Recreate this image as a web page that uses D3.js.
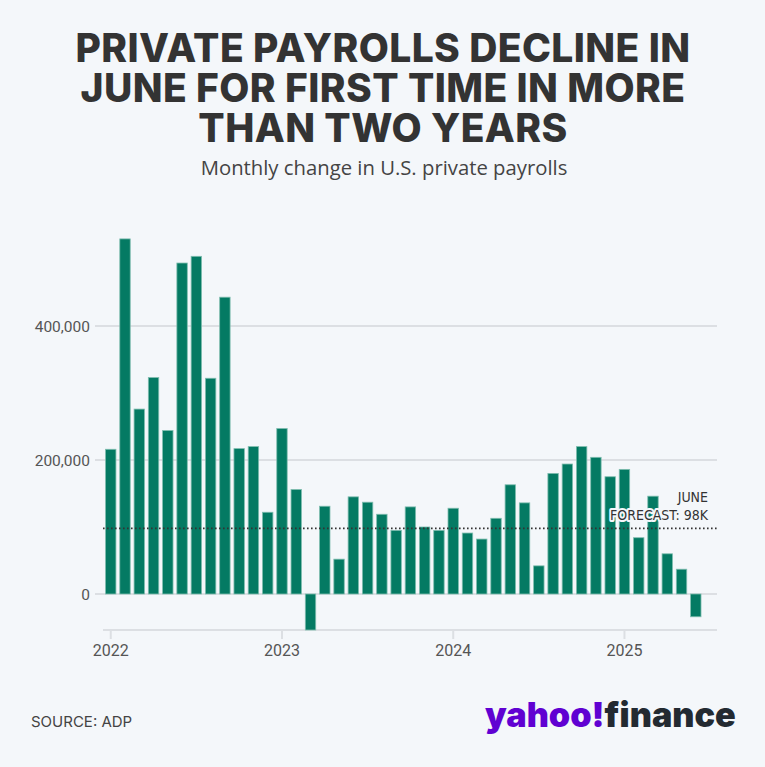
<!DOCTYPE html>
<html>
<head>
<meta charset="utf-8">
<script src="https://cdn.jsdelivr.net/npm/d3@7/dist/d3.min.js"></script>
<style>
  html, body { margin: 0; padding: 0; background: #f4f7fa; }
  svg { display: block; }
</style>
</head>
<body>
<svg id="chart" width="765" height="767"></svg>
<script>
// monthly change in private payrolls, thousands (Jan 2022 .. Jun 2025)
const values2022 = [216, 530, 276, 323, 244, 494, 504, 322, 443, 217, 220, 122];
const values2023 = [247, 156, -54, 131, 52, 145, 137, 119, 95, 130, 100, 95];
const values2024 = [128, 91, 82, 113, 163, 136, 42, 180, 194, 220, 204, 175];
const values2025 = [186, 84, 146, 60, 37, -34];
const values = [...values2022, ...values2023, ...values2024, ...values2025].map(v => v * 1000);

const months = d3.timeMonth.range(new Date(2022, 0, 1), new Date(2025, 6, 1));
const yTicks = [0, 200000, 400000];
const yearTicks = [2022, 2023, 2024, 2025];
const forecast = 98000;

const titleLines = ["PRIVATE PAYROLLS DECLINE IN", "JUNE FOR FIRST TIME IN MORE", "THAN TWO YEARS"];
const subtitle = "Monthly change in U.S. private payrolls";

const data = months.map((m, i) => ({ date: m, value: values[i] }));

const W = 765, H = 767;
const plotLeft = 103, plotRight = 717, plotBottom = 630;
const step = 14.27;

const svg = d3.select("#chart");
svg.append("rect").attr("width", W).attr("height", H).attr("fill", "#f4f7fa");

const x = d3.scaleBand()
  .domain(months.map(d => +d))
  .range([plotLeft + 0.6, plotLeft + 0.6 + step * months.length])
  .paddingInner(0.27)
  .paddingOuter(0.135);

const y = d3.scaleLinear().domain([0, 400000]).range([594, 326]);

// title: one text block, one tspan per line
svg.append("text")
  .attr("y", 62)
  .attr("text-anchor", "middle")
  .attr("font-family", "Inter, sans-serif")
  .attr("font-weight", 800)
  .attr("font-size", 39)
  .attr("letter-spacing", 0.4)
  .attr("fill", "#333")
  .selectAll("tspan")
  .data(titleLines)
  .join("tspan")
  .attr("x", 383)
  .attr("dy", (d, i) => i ? 40 : 0)
  .text(d => d);

svg.append("text")
  .attr("x", 384).attr("y", 175)
  .attr("text-anchor", "middle")
  .attr("font-family", "'Open Sans', sans-serif")
  .attr("font-size", 20.3)
  .attr("fill", "#444")
  .text(subtitle);

// gridlines + y labels
const grid = svg.append("g");
grid.selectAll("line")
  .data(yTicks)
  .join("line")
  .attr("x1", 95).attr("x2", plotRight)
  .attr("y1", d => y(d)).attr("y2", d => y(d))
  .attr("stroke", "#dcdfe3").attr("stroke-width", 2);

grid.selectAll("text")
  .data(yTicks)
  .join("text")
  .attr("x", 90)
  .attr("y", d => y(d))
  .attr("dy", "0.36em")
  .attr("text-anchor", "end")
  .attr("font-family", "Roboto, sans-serif")
  .attr("font-size", 15.5)
  .attr("fill", "#555")
  .text(d => d3.format(",")(d));

// x axis
const xa = svg.append("g");
xa.append("line")
  .attr("x1", plotLeft).attr("x2", plotRight)
  .attr("y1", plotBottom).attr("y2", plotBottom)
  .attr("stroke", "#dcdfe3").attr("stroke-width", 2);

const yearPos = yr => x(+new Date(yr, 0, 1)) + x.bandwidth() / 2;

xa.selectAll(".tick")
  .data(yearTicks)
  .join("line")
  .attr("class", "tick")
  .attr("x1", yearPos).attr("x2", yearPos)
  .attr("y1", plotBottom).attr("y2", plotBottom + 9)
  .attr("stroke", "#dcdfe3").attr("stroke-width", 2);

xa.selectAll("text")
  .data(yearTicks)
  .join("text")
  .attr("x", yearPos)
  .attr("y", 656)
  .attr("text-anchor", "middle")
  .attr("font-family", "Roboto, sans-serif")
  .attr("font-size", 16)
  .attr("fill", "#555")
  .text(d => d);

// bars
svg.append("g").selectAll("rect")
  .data(data)
  .join("rect")
  .attr("x", d => x(+d.date))
  .attr("width", x.bandwidth())
  .attr("y", d => Math.min(y(d.value), y(0)))
  .attr("height", d => Math.abs(Math.min(y(d.value), plotBottom) - y(0)))
  .attr("fill", "#047a63")
  .attr("stroke", "#7fbdaf")
  .attr("stroke-width", 0.8);

// forecast reference line
svg.append("line")
  .attr("x1", plotLeft).attr("x2", plotRight)
  .attr("y1", y(forecast)).attr("y2", y(forecast))
  .attr("stroke", "#333")
  .attr("stroke-width", 1.6)
  .attr("stroke-dasharray", "1.6 2.4");

svg.append("g").selectAll("text")
  .data(["JUNE", "FORECAST: 98K"])
  .join("text")
  .attr("x", 708)
  .attr("y", (d, i) => 502 + i * 18)
  .attr("text-anchor", "end")
  .attr("font-family", "'DejaVu Sans Condensed', 'Roboto', sans-serif")
  .attr("font-stretch", "condensed")
  .attr("font-size", 14)
  .attr("fill", "#333")
  .attr("stroke", "#f4f7fa")
  .attr("stroke-width", 4)
  .attr("stroke-linejoin", "round")
  .attr("paint-order", "stroke")
  .text(d => d);

// footer
svg.append("text")
  .attr("x", 31).attr("y", 727)
  .attr("font-family", "Inter, sans-serif")
  .attr("font-size", 15)
  .attr("fill", "#444")
  .text("SOURCE: ADP");

const logo = svg.append("text")
  .attr("x", 485).attr("y", 727)
  .attr("font-family", "Inter, sans-serif")
  .attr("font-weight", 900)
  .attr("font-size", 34.2);
logo.append("tspan").attr("fill", "#6001d2").text("yahoo!");
logo.append("tspan").attr("fill", "#232a31").text("finance");
</script>
</body>
</html>
